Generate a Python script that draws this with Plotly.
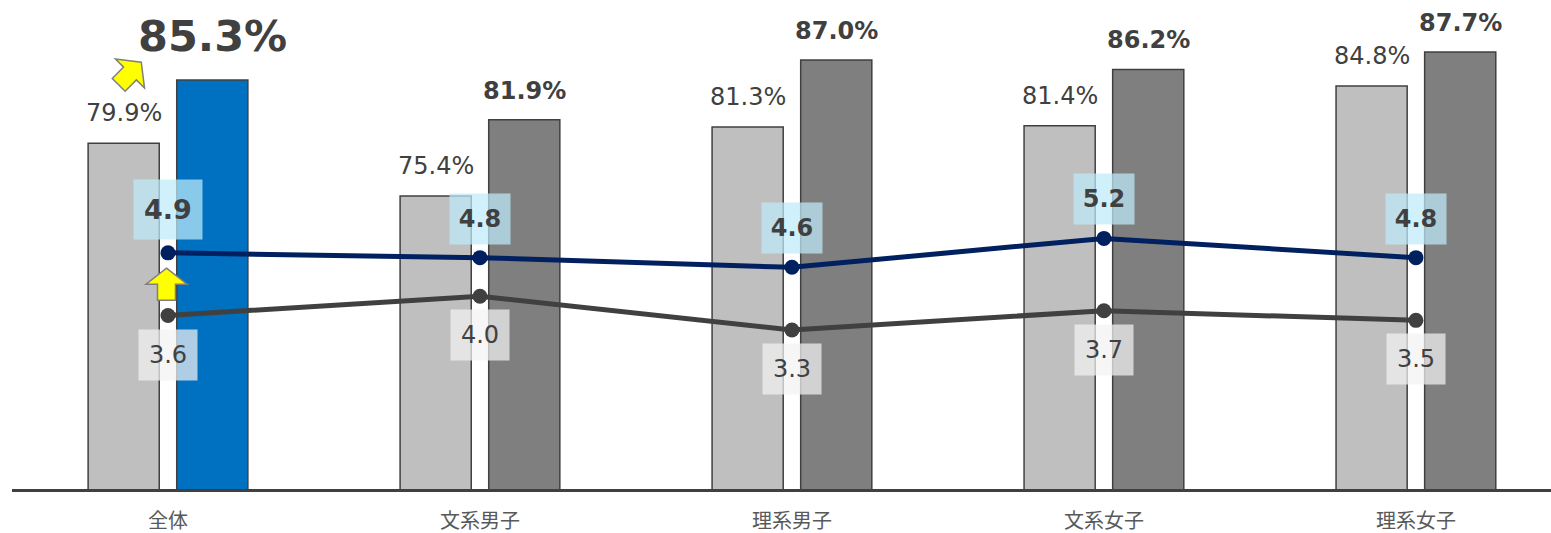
import math
import plotly.graph_objects as go

# Categories and values
categories = ["全体", "文系男子", "理系男子", "文系女子", "理系女子"]
prev_rate = [79.9, 75.4, 81.3, 81.4, 84.8]      # light bars
curr_rate = [85.3, 81.9, 87.0, 86.2, 87.7]      # dark bars
score_curr = [4.9, 4.8, 4.6, 5.2, 4.8]          # navy line
score_prev = [3.6, 4.0, 3.3, 3.7, 3.5]          # gray line

FONT = "DejaVu Sans, Verdana, sans-serif"
CJK = "Noto Sans CJK JP, sans-serif"
TXT = "#404040"

xs = list(range(len(categories)))
BAR_W = 0.228
OFF_L = -0.256
OFF_R = 0.028

fig = go.Figure()

fig.add_trace(go.Bar(
    x=xs, y=prev_rate, width=BAR_W, offset=OFF_L,
    marker=dict(color="#bfbfbf", line=dict(color="#404040", width=1.5)),
    yaxis="y", showlegend=False, hoverinfo="skip",
))
curr_colors = ["#0070c0"] + ["#7f7f7f"] * (len(categories) - 1)
fig.add_trace(go.Bar(
    x=xs, y=curr_rate, width=BAR_W, offset=OFF_R,
    marker=dict(color=curr_colors, line=dict(color="#404040", width=1.5)),
    yaxis="y", showlegend=False, hoverinfo="skip",
))

fig.add_trace(go.Scatter(
    x=xs, y=score_prev, mode="lines+markers", yaxis="y2",
    line=dict(color="#404040", width=5),
    marker=dict(size=15, color="#404040"),
    showlegend=False, hoverinfo="skip", cliponaxis=False,
))
fig.add_trace(go.Scatter(
    x=xs, y=score_curr, mode="lines+markers", yaxis="y2",
    line=dict(color="#002060", width=5),
    marker=dict(size=15, color="#002060"),
    showlegend=False, hoverinfo="skip", cliponaxis=False,
))

annotations = []
for i in xs:
    big = i == 0
    # previous-year bar labels
    annotations.append(dict(
        x=i + OFF_L + BAR_W / 2, y=prev_rate[i], xref="x", yref="y",
        text=f"{prev_rate[i]:.1f}%", showarrow=False, yanchor="middle", yshift=30,
        font=dict(family=FONT, size=24, color=TXT),
    ))
    # current-year bar labels
    annotations.append(dict(
        x=i + OFF_R + BAR_W / 2, y=curr_rate[i], xref="x", yref="y",
        text=f"<b>{curr_rate[i]:.1f}%</b>", showarrow=False, yanchor="middle",
        yshift=44 if big else 29,
        font=dict(family=FONT, size=43 if big else 24, color=TXT),
    ))
    # navy line labels
    annotations.append(dict(
        x=i, y=score_curr[i], xref="x", yref="y2",
        text=f"<b>{score_curr[i]:.1f}</b>", showarrow=False, yanchor="middle",
        yshift=43 if big else 39,
        width=66 if big else 58, height=57 if big else 48,
        bgcolor="rgba(190,235,250,0.72)",
        font=dict(family=FONT, size=27 if big else 24, color=TXT),
    ))
    # gray line labels
    annotations.append(dict(
        x=i, y=score_prev[i], xref="x", yref="y2",
        text=f"{score_prev[i]:.1f}", showarrow=False, yanchor="middle",
        yshift=-39, width=56, height=48,
        bgcolor="rgba(242,242,242,0.72)",
        font=dict(family=FONT, size=24, color=TXT),
    ))


def arrow_path(cx, cy, angle_deg):
    """Block arrow (pixel offsets from its anchor), rotated clockwise from 'up'."""
    pts = [(0, 16), (20.5, 0), (9, 0), (9, -16), (-9, -16), (-9, 0), (-20.5, 0)]
    a = math.radians(angle_deg)
    out = []
    for px, py in pts:
        rx = px * math.cos(a) + py * math.sin(a)
        ry = -px * math.sin(a) + py * math.cos(a)
        out.append((cx + rx, cy + ry))
    return "M " + " L ".join(f"{p[0]:.1f},{p[1]:.1f}" for p in out) + " Z"


arrow_style = dict(type="path", fillcolor="#ffff00",
                   line=dict(color="#7f7f7f", width=1.5),
                   xsizemode="pixel", ysizemode="pixel", layer="above")
shapes = [
    # arrow between the two line points of the first category
    dict(xref="x", yref="y2", xanchor=0, yanchor=(score_curr[0] + score_prev[0]) / 2,
         path=arrow_path(-1.5, 0, 0), **arrow_style),
    # arrow pointing to the highlighted value
    dict(xref="x", yref="y", xanchor=0, yanchor=curr_rate[0],
         path=arrow_path(-38, 6.5, 45), **arrow_style),
]

fig.update_layout(
    width=1551, height=533,
    margin=dict(l=12, r=0, t=9, b=44, autoexpand=False),
    paper_bgcolor="white", plot_bgcolor="white",
    barmode="overlay",
    xaxis=dict(
        range=[-0.5, 4.433], tickvals=xs, ticktext=categories,
        showgrid=False, zeroline=False, showline=True,
        linecolor="#404040", linewidth=3, ticks="",
        tickfont=dict(family=CJK, size=20, color="#595959"),
        ticklabelstandoff=12, automargin=False,
    ),
    yaxis=dict(range=[50.4, 91.36], visible=False, showgrid=False, automargin=False),
    yaxis2=dict(range=[0, 9.96], overlaying="y", side="right",
                visible=False, showgrid=False, automargin=False),
    annotations=annotations,
    shapes=shapes,
)

fig.write_html("out.html")
